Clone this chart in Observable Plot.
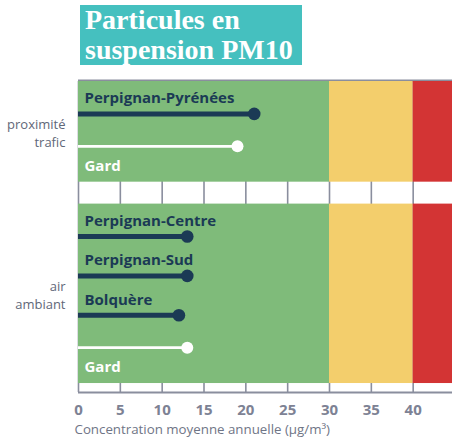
<!DOCTYPE html>
<html><head><meta charset="utf-8">
<script src="https://cdn.jsdelivr.net/npm/d3@7"></script>
<script src="https://cdn.jsdelivr.net/npm/@observablehq/plot@0.6"></script>
<style>
body{margin:0;background:#fff;}
#wrap{position:relative;width:452px;height:443px;overflow:hidden;}
#chart{position:absolute;left:0;top:0;}
#title{position:absolute;left:80px;top:5px;width:222px;height:60px;background:#45c0bf;color:#fff;
  font-family:"Liberation Serif","Times New Roman",serif;font-weight:bold;font-size:28px;line-height:30px;
  box-sizing:border-box;padding:0 0 0 5px;white-space:nowrap;}
</style></head><body>
<div id="wrap"><div id="chart"></div><div id="title">Particules en<br>suspension PM10</div></div>
<script>
// ---- data ----
const groups = ["proximité\ntrafic", "air\nambiant"];
const stationGroup = [0, 0, 1, 1, 1, 1];
const stations = ["Perpignan-Pyrénées", "Gard", "Perpignan-Centre", "Perpignan-Sud", "Bolquère", "Gard"];
const values = [21, 19, 13, 13, 12, 13];
const isReference = [false, true, false, false, false, true];
const thresholds = [0, 30, 40];
const xTicks = [0, 5, 10, 15, 20, 25, 30, 35, 40];
const xMax = 44.7;
const xLabel = "Concentration moyenne annuelle (µg/m³)";

// ---- styles ----
const bandColors = ["#7fbb7a", "#f3ce6c", "#d33434"];
const navy = "#1b3a55";
const gridGray = "#8a8e9e";

// ---- layout in row units ----
const PAD = 11 / 39.5, GAP = 22 / 39.5, BOTTOM = 9 / 39.5;
const rows = [], blocks = [];
let cursor = 0;
groups.forEach((g, gi) => {
  const top = cursor;
  cursor += PAD;
  stations.forEach((s, i) => {
    if (stationGroup[i] !== gi) return;
    const ref = isReference[i];
    rows.push({station: s, value: values[i], ref, lineY: cursor + (ref ? 14.5 / 39.5 : 21.5 / 39.5)});
    cursor += 1;
  });
  cursor += PAD;
  blocks.push({group: g, y1: top, y2: cursor});
  if (gi < groups.length - 1) cursor += GAP;
});
const yMax = cursor + BOTTOM;

const bands = [];
blocks.forEach(b => thresholds.forEach((t, i) => {
  bands.push({x1: t, x2: i < thresholds.length - 1 ? thresholds[i + 1] : xMax, y1: b.y1, y2: b.y2, fill: bandColors[i]});
}));

const plot = Plot.plot({
  width: 452, height: 443,
  marginLeft: 78, marginRight: 0, marginTop: 81, marginBottom: 51,
  style: {fontFamily: "'Open Sans', sans-serif", background: "transparent"},
  x: {domain: [0, xMax]},
  y: {domain: [0, yMax], reverse: true, axis: null},
  marks: [
    Plot.ruleX(xTicks, {y1: 0, y2: yMax, stroke: gridGray, strokeWidth: 1.6}),
    Plot.ruleY([0], {stroke: gridGray, strokeWidth: 2, dy: -1}),
    Plot.ruleY([yMax], {stroke: gridGray, strokeWidth: 2}),
    Plot.rect(bands, {x1: "x1", x2: "x2", y1: "y1", y2: "y2", fill: d => d.fill}),
    Plot.ruleY(rows.filter(d => !d.ref), {y: "lineY", x1: 0, x2: "value", stroke: navy, strokeWidth: 5}),
    Plot.dot(rows.filter(d => !d.ref), {x: "value", y: "lineY", r: 6.3, fill: navy}),
    Plot.ruleY(rows.filter(d => d.ref), {y: "lineY", x1: 0, x2: "value", stroke: "#fff", strokeWidth: 2.8}),
    Plot.dot(rows.filter(d => d.ref), {x: "value", y: "lineY", r: 6, fill: "#fff"}),
    Plot.text(rows.filter(d => !d.ref), {y: "lineY", text: "station", frameAnchor: "left", textAnchor: "start",
      dx: 6, dy: -15.5, fontSize: 15, fontWeight: "bold", fill: navy}),
    Plot.text(rows.filter(d => d.ref), {y: "lineY", text: "station", frameAnchor: "left", textAnchor: "start",
      dx: 6, dy: 19.5, fontSize: 15, fontWeight: "bold", fill: "#fff"}),
    Plot.text(blocks, {y: d => (d.y1 + d.y2) / 2, text: "group", frameAnchor: "left", textAnchor: "end",
      dx: -13, fontSize: 13, lineHeight: 1.4, fill: "#5f6778"}),
    Plot.axisX({ticks: xTicks, tickSize: 0, tickPadding: 12, fontSize: 15, fontWeight: "bold", fill: "#7d8294", label: null}),
    Plot.text([xLabel], {frameAnchor: "bottom-left", textAnchor: "start", dx: -4, dy: 41, fontSize: 13.3, fill: "#6f7586"})
  ]
});
document.getElementById("chart").appendChild(plot);
</script>
</body></html>
